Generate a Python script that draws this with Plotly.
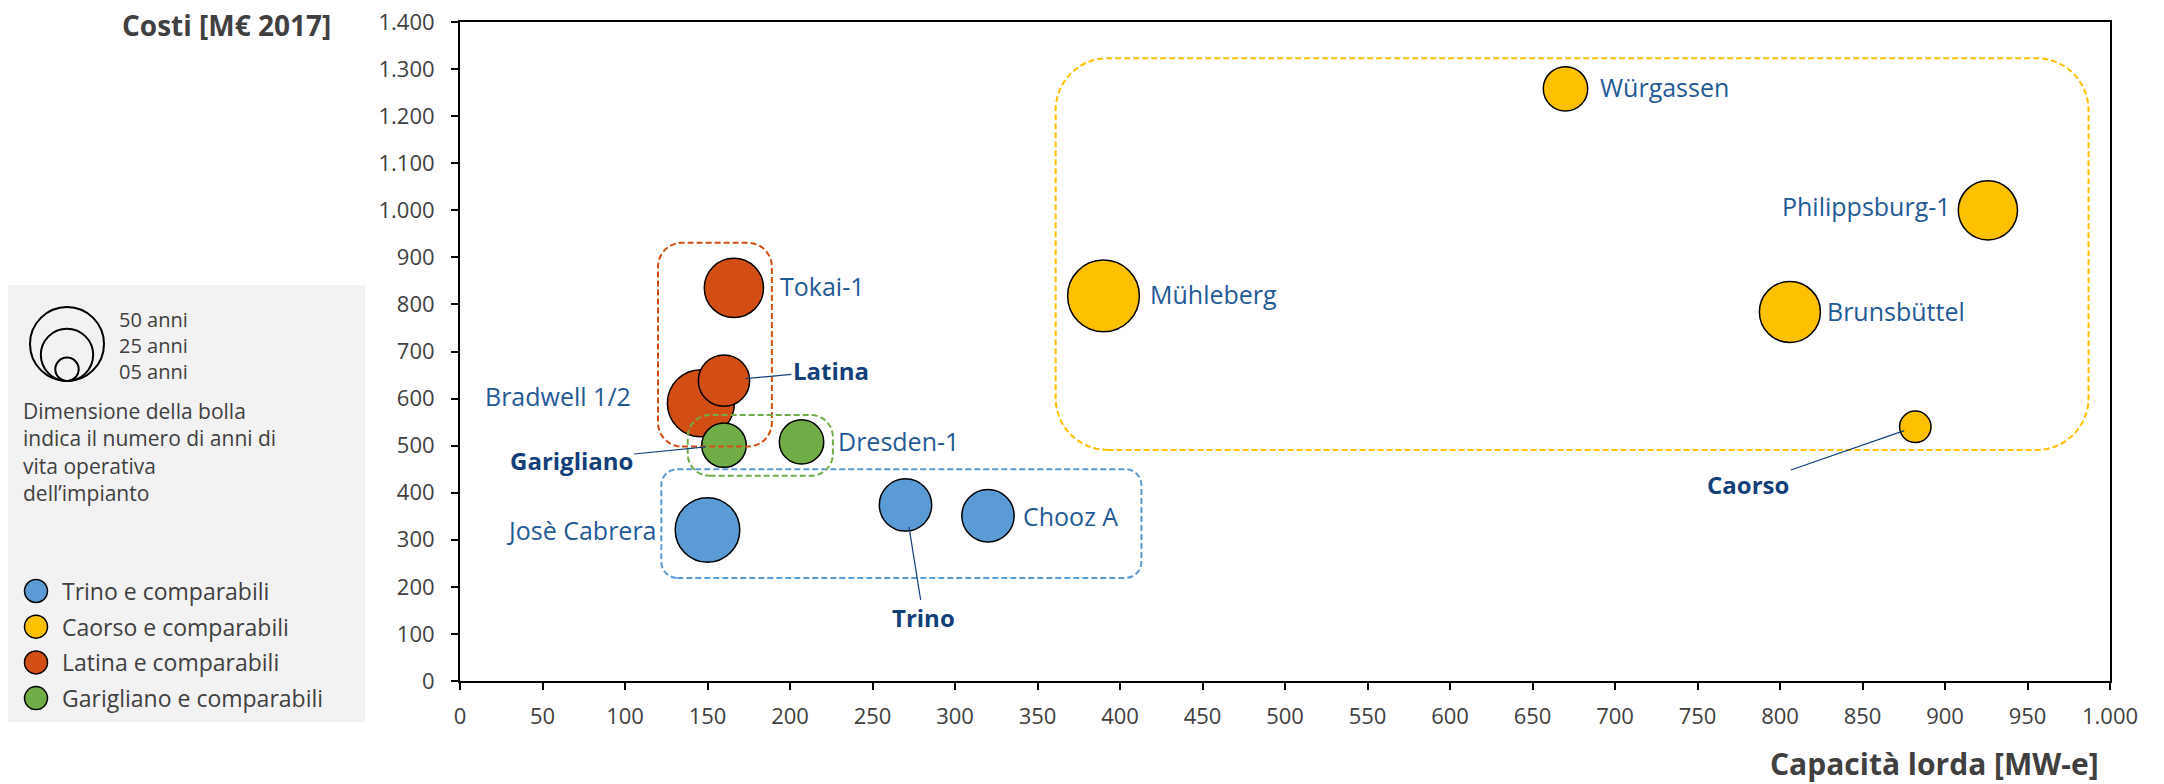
import math
import plotly.graph_objects as go

# ---------------- data ----------------
plants = ["Trino", "Josè Cabrera", "Chooz A",
          "Caorso", "Würgassen", "Mühleberg", "Philippsburg-1", "Brunsbüttel",
          "Tokai-1", "Bradwell 1/2", "Latina",
          "Garigliano", "Dresden-1"]
capacity_mwe = [270, 150, 320,
                882, 670, 390, 926, 806,
                166, 146, 160,
                160, 207]
cost_meur = [374, 321, 351,
             540, 1258, 818, 1000, 784,
             835, 590, 638,
             501, 508]
years_operation = [25, 38, 25,
                   9, 18, 47, 32, 34,
                   32, 41, 24,
                   18, 18]
plant_group = ["Trino", "Trino", "Trino",
               "Caorso", "Caorso", "Caorso", "Caorso", "Caorso",
               "Latina", "Latina", "Latina",
               "Garigliano", "Garigliano"]

groups = ["Trino", "Caorso", "Latina", "Garigliano"]
group_labels = ["Trino e comparabili", "Caorso e comparabili",
                "Latina e comparabili", "Garigliano e comparabili"]
group_colors = ["#5B9BD5", "#FFC000", "#D24E14", "#70AD47"]

size_legend_years = [50, 25, 5]
size_legend_labels = ["50 anni", "25 anni", "05 anni"]
size_note_lines = ["Dimensione della bolla", "indica il numero di anni di",
                   "vita operativa", "dell’impianto"]

x_ticks = list(range(0, 1001, 50))
y_ticks = list(range(0, 1401, 100))

# ---------------- layout constants ----------------
OFF = 8  # page body margin
W, H = 2164 - OFF, 784 - OFF
ML = 460 - OFF
MT = 22 - OFF
PLOT_R = 2110 - OFF
PLOT_B = 681 - OFF
MR = W - PLOT_R
MB = H - PLOT_B
PW, PH = PLOT_R - ML, PLOT_B - MT
XMAX, YMAX = 1000, 1400
PXX, PXY = PW / XMAX, PH / YMAX
FONT = "Open Sans"
TXT = "#1F5A96"
TXT_B = "#123F7A"
GRAY = "#404040"
SIZEREF = 2 * 50 / 74 ** 2  # 50 years -> 74 px diameter (area mode)


def radius_px(yrs):
    return 0.5 * math.sqrt(2 * yrs / SIZEREF)


def px2paper(px, py):
    """screenshot pixel -> paper coords"""
    return ((px - OFF) - ML) / PW, (PLOT_B - (py - OFF)) / PH


fig = go.Figure()
for g, lab, col in zip(groups, group_labels, group_colors):
    idx = [i for i, pg in enumerate(plant_group) if pg == g]
    fig.add_trace(go.Scatter(
        x=[capacity_mwe[i] for i in idx], y=[cost_meur[i] for i in idx],
        text=[plants[i] for i in idx], name=lab, mode="markers",
        marker=dict(size=[years_operation[i] for i in idx], sizemode="area",
                    sizeref=SIZEREF, color=col, opacity=1,
                    line=dict(color="black", width=1.5)),
        showlegend=False, hoverinfo="text+x+y"))

# ---------- point labels ----------
# name: (xanchor, xshift, yshift, bold, ax, ay)
label_cfg = {
    "Tokai-1": ("left", 44, 2, False, None, None),
    "Bradwell 1/2": ("right", -68, 7, False, None, None),
    "Dresden-1": ("left", 34, 1, False, None, None),
    "Josè Cabrera": ("right", -49, 0, False, None, None),
    "Chooz A": ("left", 33, 0, False, None, None),
    "Mühleberg": ("left", 44, 2, False, None, None),
    "Würgassen": ("left", 32, 2, False, None, None),
    "Philippsburg-1": ("right", -35, 4, False, None, None),
    "Brunsbüttel": ("left", 35, 1, False, None, None),
    "Latina": (None, 0, 0, True, 107, -10),
    "Garigliano": (None, 0, 0, True, -153, 15),
    "Trino": (None, 0, 0, True, 18, 113),
    "Caorso": (None, 0, 0, True, -167, 58),
}
for i, n in enumerate(plants):
    xa, xs, ys, bold, ax, ay = label_cfg[n]
    if ax is None:
        fig.add_annotation(x=capacity_mwe[i], y=cost_meur[i], text=n,
                           showarrow=False, xanchor=xa, xshift=xs, yshift=ys,
                           font=dict(family=FONT, size=25, color=TXT))
    else:
        fig.add_annotation(x=capacity_mwe[i], y=cost_meur[i], text="<b>%s</b>" % n,
                           showarrow=True, arrowhead=0, arrowwidth=1.2,
                           arrowcolor=TXT_B, ax=ax, ay=ay,
                           standoff=radius_px(years_operation[i]) - 4,
                           font=dict(family=FONT, size=24, color=TXT_B))

# ---------- dashed rounded group boxes ----------
group_boxes = {  # x0, x1, y0, y1, corner radius px
    "Caorso": (361, 987, 491, 1323, 52),
    "Latina": (120, 189, 498, 931, 24),
    "Garigliano": (138, 226, 436, 565, 22),
    "Trino": (122, 413, 219, 450, 16),
}


def rounded_path(x0, x1, y0, y1, r):
    rx, ry = r / PXX, r / PXY
    k = 0.5523
    return (f"M {x0 + rx},{y0} L {x1 - rx},{y0} "
            f"C {x1 - rx + k * rx},{y0} {x1},{y0 + ry - k * ry} {x1},{y0 + ry} "
            f"L {x1},{y1 - ry} "
            f"C {x1},{y1 - ry + k * ry} {x1 - rx + k * rx},{y1} {x1 - rx},{y1} "
            f"L {x0 + rx},{y1} "
            f"C {x0 + rx - k * rx},{y1} {x0},{y1 - ry + k * ry} {x0},{y1 - ry} "
            f"L {x0},{y0 + ry} "
            f"C {x0},{y0 + ry - k * ry} {x0 + rx - k * rx},{y0} {x0 + rx},{y0} Z")


for g, col in zip(groups, group_colors):
    x0, x1, y0, y1, r = group_boxes[g]
    fig.add_shape(type="path", path=rounded_path(x0, x1, y0, y1, r),
                  xref="x", yref="y", line=dict(color=col, width=2, dash="6px,3px"),
                  layer="above")

# ---------- left legend panel ----------
bx0, by0 = px2paper(7, 722)
bx1, by1 = px2paper(365, 285)
fig.add_shape(type="rect", xref="paper", yref="paper", x0=bx0, x1=bx1, y0=by0, y1=by1,
              fillcolor="#F2F2F2", line=dict(width=0), layer="below")

base_y = 381
for yrs in size_legend_years:
    r = radius_px(yrs)
    cx, cy = 67, base_y - r
    ax0, ay0 = px2paper(cx - r, cy + r)
    ax1, ay1 = px2paper(cx + r, cy - r)
    fig.add_shape(type="circle", xref="paper", yref="paper", x0=ax0, x1=ax1, y0=ay0, y1=ay1,
                  line=dict(color="black", width=2))

px, py = px2paper(117, 345)
fig.add_annotation(xref="paper", yref="paper", x=px, y=py, text="<br>".join(size_legend_labels),
                   showarrow=False, xanchor="left", yanchor="middle", align="left",
                   font=dict(family=FONT, size=20, color=GRAY))
px, py = px2paper(21, 452)
fig.add_annotation(xref="paper", yref="paper", x=px, y=py, text="<br>".join(size_note_lines),
                   showarrow=False, xanchor="left", yanchor="middle", align="left",
                   font=dict(family=FONT, size=21, color=GRAY))

for k, (lab, col) in enumerate(zip(group_labels, group_colors)):
    cy = 591 + 35.7 * k
    c0x, c0y = px2paper(36 - 11.5, cy + 11.5)
    c1x, c1y = px2paper(36 + 11.5, cy - 11.5)
    fig.add_shape(type="circle", xref="paper", yref="paper", x0=c0x, x1=c1x, y0=c0y, y1=c1y,
                  fillcolor=col, line=dict(color="black", width=1.5))
    px, py = px2paper(60, cy)
    fig.add_annotation(xref="paper", yref="paper", x=px, y=py, text=lab, showarrow=False,
                       xanchor="left", yanchor="middle",
                       font=dict(family=FONT, size=23, color=GRAY))

# ---------- axis titles ----------
tx, ty = px2paper(333, 25)
fig.add_annotation(xref="paper", yref="paper", x=tx, y=ty, text="<b>Costi [M€ 2017]</b>",
                   showarrow=False, xanchor="right", yanchor="middle",
                   font=dict(family=FONT, size=28, color=GRAY))
tx, ty = px2paper(2101, 763)
fig.add_annotation(xref="paper", yref="paper", x=tx, y=ty, text="<b>Capacità lorda [MW-e]</b>",
                   showarrow=False, xanchor="right", yanchor="middle",
                   font=dict(family=FONT, size=30, color=GRAY))

axis_common = dict(showgrid=False, zeroline=False, showline=True, linecolor="black",
                   linewidth=2, mirror=True, ticks="outside", ticklen=7, tickwidth=2,
                   tickcolor="black", tickformat=",d", ticklabeloverflow="allow",
                   tickfont=dict(family=FONT, size=22, color=GRAY))
fig.update_xaxes(range=[0, XMAX], tickvals=x_ticks, ticklabelstandoff=8, **axis_common)
fig.update_yaxes(range=[0, YMAX], tickvals=y_ticks, ticklabelstandoff=12, **axis_common)

fig.update_layout(width=W, height=H, separators=",.",
                  margin=dict(l=ML, r=MR, t=MT, b=MB, autoexpand=False),
                  paper_bgcolor="white", plot_bgcolor="white",
                  font=dict(family=FONT, color=GRAY), showlegend=False)

fig.write_html("out.html")
